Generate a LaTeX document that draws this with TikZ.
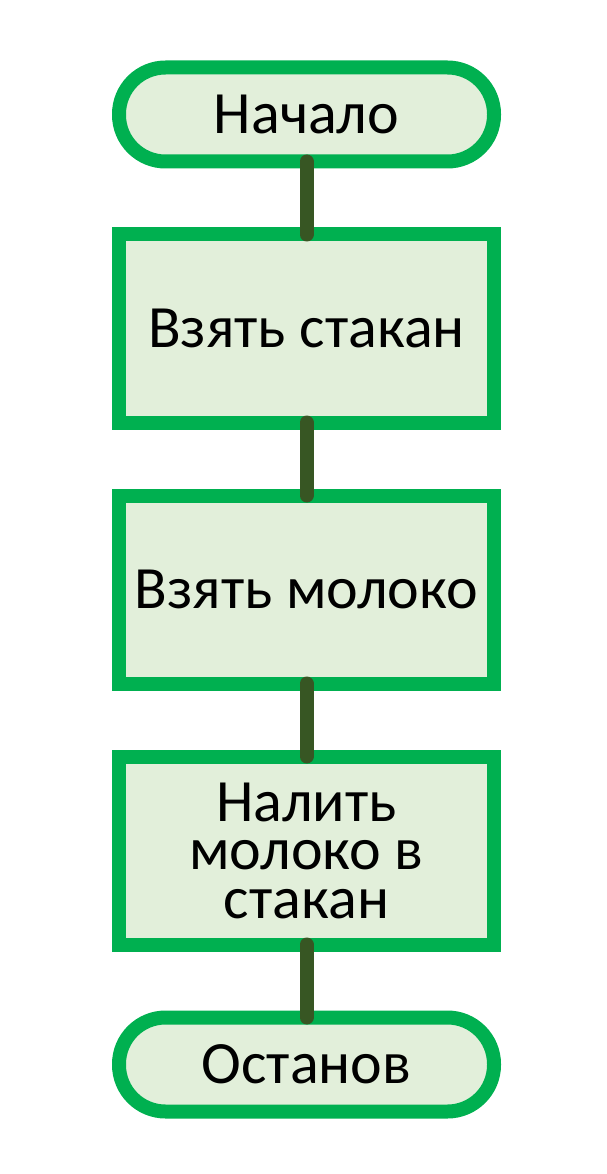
\documentclass[tikz,border=0pt]{standalone}
\usepackage{fontspec}
\setmainfont{Carlito}
\definecolor{shapegreen}{HTML}{00B050}
\definecolor{shapefill}{HTML}{E2EFDA}
\definecolor{linkgreen}{HTML}{375623}
\begin{document}
\begin{tikzpicture}[x=1pt,y=1pt,
  base/.style={draw=shapegreen, fill=shapefill, line width=14pt, inner sep=0pt, outer sep=0pt,
    minimum width=375pt, align=center, text=black, font=\fontsize{60}{48.5}\selectfont},
  term/.style={base, rounded corners=46.5pt, minimum height=94pt},
  proc/.style={base, minimum height=188pt},
  link/.style={draw=linkgreen, line width=14pt, line cap=round}]
\useasboundingbox (0,0) rectangle (607,-1174);
\node[term] (start) at (306.5,-114.5) {Начало};
\node[proc] (b1) at (306.5,-328.5) {Взять стакан};
\node[proc] (b2) at (306.5,-589.5) {Взять молоко};
\node[proc] (b3) at (306.5,-850.5) {Налить\\молоко в\\стакан};
\node[term] (stop) at (306.5,-1064.5) {Останов};
\draw[link] (start.south) -- (b1.north);
\draw[link] (b1.south) -- (b2.north);
\draw[link] (b2.south) -- (b3.north);
\draw[link] (b3.south) -- (stop.north);
\end{tikzpicture}
\end{document}
